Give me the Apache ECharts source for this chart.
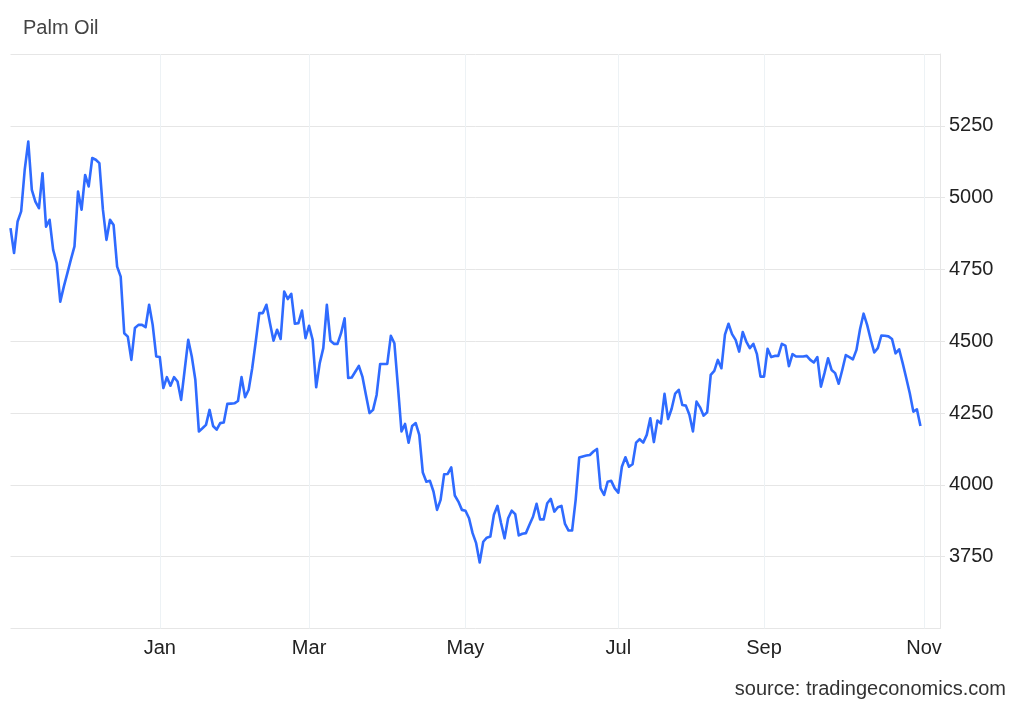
<!DOCTYPE html>
<html>
<head>
<meta charset="utf-8">
<script src="https://cdn.jsdelivr.net/npm/echarts@6/dist/echarts.min.js"></script>
<style>
  html, body { margin: 0; padding: 0; background: #ffffff; }
  #chart { width: 1024px; height: 710px; }
</style>
</head>
<body>
<div id="chart"></div>
<script>
// Daily (trading-day) Palm Oil prices
const values = [
  4894, 4807, 4917, 4952, 5097, 5195, 5027, 4986, 4963, 5085,
  4899, 4923, 4818, 4772, 4638, 4690, 4737, 4785, 4830, 5021,
  4958, 5079, 5039, 5138, 5132, 5120, 4958, 4853, 4923, 4905,
  4760, 4725, 4528, 4516, 4435, 4546, 4557, 4557, 4549, 4627,
  4557, 4447, 4445, 4337, 4375, 4345, 4375, 4360, 4296, 4400,
  4505, 4447, 4366, 4186, 4197, 4209, 4261, 4205, 4192, 4215,
  4217, 4282, 4283, 4284, 4292, 4375, 4305, 4331, 4406, 4499,
  4598, 4598, 4627, 4563, 4502, 4540, 4508, 4673, 4647, 4665,
  4561, 4563, 4607, 4511, 4554, 4505, 4340, 4424, 4476, 4627,
  4502, 4491, 4491, 4528, 4580, 4372, 4374, 4394, 4414, 4377,
  4313, 4250, 4261, 4313, 4421, 4421, 4421, 4519, 4493, 4342,
  4186, 4212, 4147, 4205, 4215, 4174, 4043, 4011, 4014, 3977,
  3913, 3948, 4037, 4038, 4061, 3963, 3942, 3913, 3910, 3884,
  3832, 3797, 3730, 3802, 3816, 3820, 3896, 3927, 3867, 3814,
  3884, 3910, 3898, 3824, 3830, 3832, 3861, 3889, 3934, 3880,
  3880, 3936, 3951, 3907, 3922, 3927, 3864, 3841, 3841, 3948,
  4095, 4099, 4102, 4104, 4116, 4125, 3988, 3965, 4011, 4014,
  3988, 3973, 4063, 4096, 4063, 4072, 4147, 4159, 4147, 4174,
  4232, 4149, 4224, 4214, 4317, 4229, 4265, 4318, 4331, 4278,
  4276, 4244, 4186, 4290, 4270, 4241, 4253, 4383, 4397, 4435,
  4406, 4523, 4561, 4525, 4505, 4464, 4532, 4499, 4476, 4491,
  4455, 4377, 4377, 4474, 4445, 4449, 4449, 4491, 4485, 4413,
  4455, 4447, 4447, 4447, 4449, 4435, 4426, 4445, 4342, 4389,
  4441, 4400, 4389, 4352, 4400, 4452, 4445, 4437, 4470, 4542,
  4596, 4557, 4507, 4461, 4476, 4520, 4519, 4517, 4508, 4458,
  4472, 4424, 4372, 4319, 4255, 4263, 4205
];

// Trading-day index of the first session of each labelled month
const monthTickIndex = [42, 84, 128, 171, 212, 257];
const monthLabels = ['Jan', 'Mar', 'May', 'Jul', 'Sep', 'Nov'];

// Price axis ticks
const yMin = 3500, yMax = 5500, yStep = 250;

const FONT = "'Liberation Sans', Arial, Helvetica, sans-serif";

const chart = echarts.init(document.getElementById('chart'), null, { renderer: 'canvas' });

chart.setOption({
  animation: false,
  backgroundColor: '#ffffff',
  title: [
    {
      text: 'Palm Oil',
      left: 18, top: 13,
      textStyle: { fontFamily: FONT, fontSize: 20, fontWeight: 'normal', color: '#444444' }
    },
    {
      text: 'source: tradingeconomics.com',
      right: 13, bottom: 6,
      textStyle: { fontFamily: FONT, fontSize: 20, fontWeight: 'normal', color: '#333333' }
    }
  ],
  grid: { left: 10.5, right: 84, top: 54, bottom: 81.5, containLabel: false },
  xAxis: {
    type: 'value',
    min: 0,
    max: 261.5,
    axisLine: { show: false, onZero: false },
    axisTick: { show: false, customValues: monthTickIndex },
    axisLabel: {
      customValues: monthTickIndex,
      formatter: function (v) {
        const k = monthTickIndex.indexOf(Math.round(v));
        return k >= 0 ? monthLabels[k] : '';
      },
      margin: 10,
      fontFamily: FONT, fontSize: 20, color: '#222222'
    },
    splitLine: { show: false }
  },
  yAxis: {
    type: 'value',
    position: 'right',
    min: yMin, max: yMax, interval: yStep,
    axisLine: { show: true, onZero: false, lineStyle: { color: '#e6e6e6', width: 1 } },
    axisTick: { show: true, inside: false, length: 5, lineStyle: { color: '#e6e6e6', width: 1 } },
    axisLabel: {
      showMinLabel: false, showMaxLabel: false,
      margin: 9,
      formatter: function (v) { return String(v); },
      fontFamily: FONT, fontSize: 20, color: '#222222'
    },
    splitLine: { show: true, lineStyle: { color: '#e6e6e6', width: 1 } }
  },
  series: [{
    type: 'line',
    data: values.map((v, i) => [i, v]),
    showSymbol: false,
    symbol: 'none',
    z: 3,
    lineStyle: { color: '#2f6bff', width: 2.6, join: 'round' },
    itemStyle: { color: '#2f6bff' },
    markLine: {
      silent: true,
      symbol: ['none', 'none'],
      label: { show: false },
      animation: false,
      z: 1,
      lineStyle: { color: '#edf2f5', width: 1, type: 'solid' },
      emphasis: { disabled: true },
      data: monthTickIndex.map(i => ({ xAxis: i }))
    }
  }]
});
</script>
</body>
</html>
